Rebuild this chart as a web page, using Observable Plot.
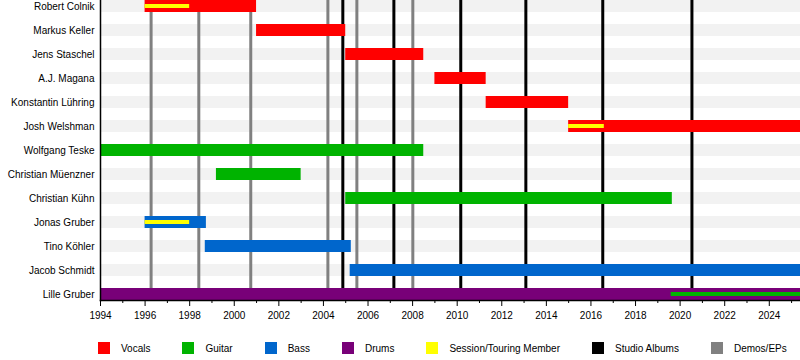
<!DOCTYPE html>
<html>
<head>
<meta charset="utf-8">
<script src="https://cdn.jsdelivr.net/npm/d3@7"></script>
<script src="https://cdn.jsdelivr.net/npm/@observablehq/plot@0.6"></script>
<style>
  html, body { margin: 0; padding: 0; background: #fff; }
  #chart { width: 800px; height: 360px; font-family: "Liberation Sans", Arial, sans-serif; }
  .legend { display: flex; align-items: center; height: 36px; padding-left: 98px; font-size: 10px; color: #000; white-space: nowrap; }
  .legend .item { display: flex; align-items: center; margin-right: 32px; flex-shrink: 0; }
  .legend .sw { width: 12px; height: 12px; margin-right: 11px; flex-shrink: 0; }
</style>
</head>
<body>
<div id="chart"></div>
<script>
const END = 2025.4;
const START = 1994;

const members = ["Robert Colnik", "Markus Keller", "Jens Staschel", "A.J. Magana",
  "Konstantin Lühring", "Josh Welshman", "Wolfgang Teske", "Christian Müenzner",
  "Christian Kühn", "Jonas Gruber", "Tino Köhler", "Jacob Schmidt", "Lille Gruber"];

const roles = ["Vocals", "Guitar", "Bass", "Drums", "Session/Touring Member", "Studio Albums", "Demos/EPs"];
const roleColors = ["#ff0000", "#00b300", "#0066cc", "#780078", "#ffff00", "#000000", "#808080"];

const vocals = [["Robert Colnik", 1996.0, 2001.0], ["Markus Keller", 2001.0, 2005.0],
  ["Jens Staschel", 2005.0, 2008.5], ["A.J. Magana", 2009.0, 2011.3],
  ["Konstantin Lühring", 2011.3, 2015.0], ["Josh Welshman", 2015.0, END]];
const guitar = [["Wolfgang Teske", 1994.0, 2008.5], ["Christian Müenzner", 1999.2, 2003.0],
  ["Christian Kühn", 2005.0, 2019.65]];
const bass = [["Jonas Gruber", 1996.0, 1998.75], ["Tino Köhler", 1998.7, 2005.25],
  ["Jacob Schmidt", 2005.2, END]];
const drums = [["Lille Gruber", 1994.0, END]];
const session = [["Robert Colnik", 1996.0, 1998.0], ["Jonas Gruber", 1996.0, 1998.0],
  ["Josh Welshman", 2015.0, 2016.6]];
const secondaryGuitar = [["Lille Gruber", 2019.6, END]];

const studioAlbums = [2004.87, 2007.16, 2010.16, 2013.08, 2016.53, 2020.53];
const demosEPs = [1996.27, 1998.41, 2000.74, 2004.2, 2005.5, 2008.01];

const majorTicks = d3.range(1994, 2025, 2);
const minorTicks = d3.range(1995, 2026, 2);

const toRows = (arr, role) => arr.map(([name, start, end]) => ({name, role, start, end}));
const mainBars = [
  ...toRows(vocals, "Vocals"), ...toRows(guitar, "Guitar"),
  ...toRows(bass, "Bass"), ...toRows(drums, "Drums")
];
const thinBars = [
  ...toRows(session, "Session/Touring Member"), ...toRows(secondaryGuitar, "Guitar")
];

const chart = Plot.plot({
  width: 800, height: 330,
  marginLeft: 100, marginRight: 0, marginTop: 0, marginBottom: 30,
  style: {fontFamily: '"Liberation Sans", Arial, sans-serif', fontSize: "10px", color: "#000", background: "#fff"},
  x: {domain: [START, END]},
  y: {domain: members, paddingInner: 0.5, paddingOuter: 0},
  color: {domain: roles, range: roleColors},
  marks: [
    Plot.barX(members, {y: d => d, x1: () => START, x2: () => END, fill: "#f2f2f2"}),
    Plot.ruleX(demosEPs, {x: d => d, stroke: "#808080", strokeWidth: 3}),
    Plot.ruleX(studioAlbums, {x: d => d, stroke: "#000", strokeWidth: 3}),
    Plot.barX(mainBars, {y: "name", x1: "start", x2: "end", fill: "role"}),
    Plot.barX(thinBars, {y: "name", x1: "start", x2: "end", fill: "role", insetTop: 4, insetBottom: 4}),
    Plot.axisY({tickSize: 0, tickPadding: 6, label: null}),
    Plot.axisX({ticks: majorTicks, tickFormat: "d", tickSize: 6, tickPadding: 5, label: null}),
    Plot.axisX({ticks: minorTicks, tickFormat: () => "", tickSize: 3, label: null}),
    Plot.frame({anchor: "bottom", stroke: "#000", strokeWidth: 1.5}),
    Plot.frame({anchor: "left", stroke: "#000", strokeWidth: 1.5})
  ]
});

const root = document.getElementById("chart");
root.appendChild(chart);

const legend = document.createElement("div");
legend.className = "legend";
roles.forEach((r, i) => {
  const item = document.createElement("div");
  item.className = "item";
  const sw = document.createElement("div");
  sw.className = "sw";
  sw.style.background = roleColors[i];
  const lab = document.createElement("span");
  lab.textContent = r;
  item.appendChild(sw);
  item.appendChild(lab);
  legend.appendChild(item);
});
root.appendChild(legend);
</script>
</body>
</html>
